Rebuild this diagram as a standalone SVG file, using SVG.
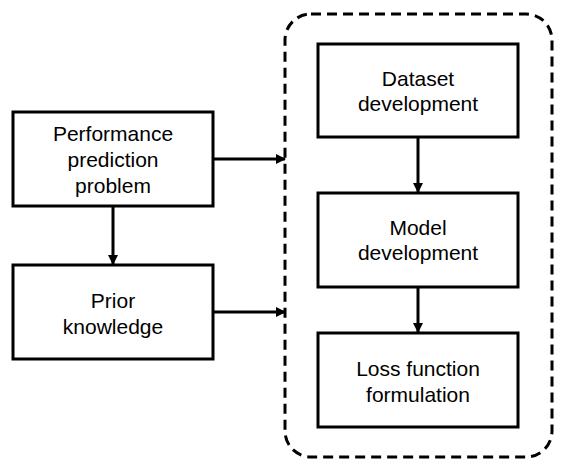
<svg xmlns="http://www.w3.org/2000/svg" width="564" height="467" viewBox="0 0 564 467">
<style>
.box{fill:#fff;stroke:#000;stroke-width:3}
.t{font-family:"Liberation Sans",Arial,sans-serif;font-size:21px;text-anchor:middle;fill:#000}
.c{stroke:#000;stroke-width:3;fill:none}
</style>
<defs>
<marker id="ah" markerWidth="10" markerHeight="10" refX="9" refY="5" orient="auto" markerUnits="userSpaceOnUse">
<path d="M0,0 L10,5 L0,10 Z" fill="#000"/>
</marker>
</defs>
<rect x="285" y="14" width="267" height="443" rx="26" ry="26" fill="none" stroke="#000" stroke-width="3" stroke-dasharray="10,6"/>
<g id="n1"><rect class="box" x="13" y="112" width="200" height="94"/>
<text class="t" x="113" y="141">Performance</text><text class="t" x="113" y="167">prediction</text><text class="t" x="113" y="193">problem</text></g>
<g id="n2"><rect class="box" x="13" y="265" width="200" height="94"/>
<text class="t" x="113" y="308">Prior</text><text class="t" x="113" y="334">knowledge</text></g>
<g id="n3"><rect class="box" x="318" y="44" width="200" height="93"/>
<text class="t" x="418" y="86">Dataset</text><text class="t" x="418" y="111">development</text></g>
<g id="n4"><rect class="box" x="318" y="193" width="200" height="94"/>
<text class="t" x="418" y="235">Model</text><text class="t" x="418" y="260">development</text></g>
<g id="n5"><rect class="box" x="318" y="333" width="200" height="94"/>
<text class="t" x="418" y="376">Loss function</text><text class="t" x="418" y="402">formulation</text></g>
<g id="connectors">
<line class="c" x1="213" y1="159" x2="285" y2="159" marker-end="url(#ah)"/>
<line class="c" x1="213" y1="312" x2="285" y2="312" marker-end="url(#ah)"/>
<line class="c" x1="113" y1="206" x2="113" y2="264" marker-end="url(#ah)"/>
<line class="c" x1="418" y1="137" x2="418" y2="192" marker-end="url(#ah)"/>
<line class="c" x1="418" y1="287" x2="418" y2="332" marker-end="url(#ah)"/>
</g>
</svg>
